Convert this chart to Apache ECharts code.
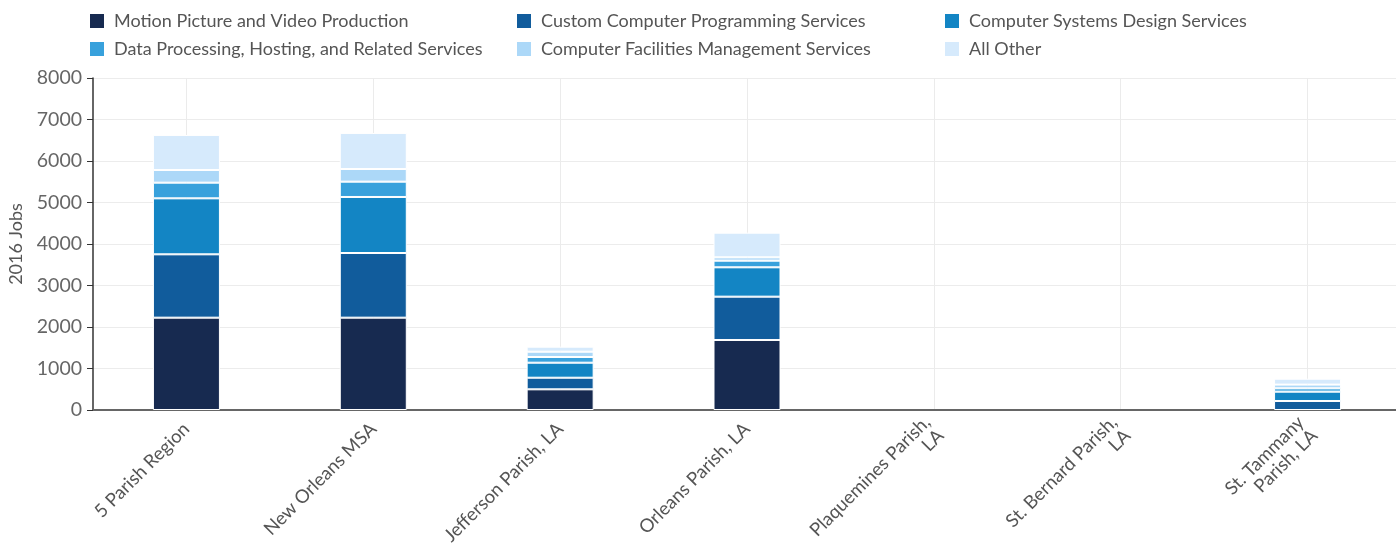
<!DOCTYPE html>
<html><head><meta charset="utf-8">
<script src="https://cdn.jsdelivr.net/npm/echarts@6/dist/echarts.min.js"></script>
<style>html,body{margin:0;padding:0;background:#fff}#c{width:1396px;height:546px}</style>
</head><body><div id="c"></div>
<script>
const categories = ["5 Parish Region", "New Orleans MSA", "Jefferson Parish, LA", "Orleans Parish, LA", "Plaquemines Parish,\nLA", "St. Bernard Parish,\nLA", "St. Tammany\nParish, LA"];
const seriesNames = ["Motion Picture and Video Production", "Custom Computer Programming Services", "Computer Systems Design Services", "Data Processing, Hosting, and Related Services", "Computer Facilities Management Services", "All Other"];
const motionPicture = [2225, 2225, 498, 1687, null, null, null];
const customProgramming = [1526, 1558, 280, 1044, null, null, 217];
const systemsDesign = [1349, 1350, 362, 707, null, null, 225];
const dataProcessing = [378, 369, 137, 160, null, null, 80];
const facilitiesMgmt = [305, 305, 128, 81, null, null, 90];
const allOther = [844, 868, 121, 594, null, null, 142];
const yTicks = [0, 1000, 2000, 3000, 4000, 5000, 6000, 7000, 8000];

const colors = ["#172a50", "#115c9c", "#1385c4", "#38a1dc", "#acd8f8", "#d6eafc"];
const values = [motionPicture, customProgramming, systemsDesign, dataProcessing, facilitiesMgmt, allOther];
const font = "Lato, 'Open Sans', sans-serif";

const chart = echarts.init(document.getElementById('c'));
const legendBase = {
  orient: 'vertical', top: 12, padding: 0, itemWidth: 16, itemHeight: 16, itemGap: 10,
  textStyle: {fontFamily: font, fontSize: 18, lineHeight: 18, color: '#555', padding: [0,0,0,4]},
  icon: 'rect', selectedMode: false
};
chart.setOption({
  color: colors,
  animation: false,
  legend: [
    Object.assign({}, legendBase, {left: 88, data: [seriesNames[0], seriesNames[3]]}),
    Object.assign({}, legendBase, {left: 515, data: [seriesNames[1], seriesNames[4]]}),
    Object.assign({}, legendBase, {left: 943, data: [seriesNames[2], seriesNames[5]]})
  ],
  grid: {left: 93, top: 78, bottom: 136, right: -5, containLabel: false, outerBoundsMode: 'none'},
  xAxis: {
    type: 'category', data: categories,
    axisLine: {lineStyle: {color: '#666', width: 2}},
    axisTick: {show: false},
    splitLine: {show: true, alignWithLabel: true, lineStyle: {color: '#ebebeb', width: 1}},
    axisLabel: {rotate: 45, interval: 0, fontFamily: font, fontSize: 18.5, color: '#555', margin: 16, align: 'right'}
  },
  yAxis: {
    type: 'value', min: 0, max: 8000, interval: 1000,
    name: '2016 Jobs', nameLocation: 'middle', nameGap: 68,
    nameTextStyle: {fontFamily: font, fontSize: 18, color: '#555'},
    axisLine: {show: true, lineStyle: {color: '#333', width: 1.5}},
    axisTick: {show: true, length: 6, lineStyle: {color: '#333'}},
    splitLine: {lineStyle: {color: '#ececec'}},
    axisLabel: {fontFamily: font, fontSize: 19.5, color: '#666', margin: 11,
      formatter: v => yTicks.includes(v) ? String(v) : ''}
  },
  series: values.map((d, i) => ({
    name: seriesNames[i], type: 'bar', stack: 'total', data: d, barWidth: 67,
    itemStyle: {borderColor: '#fff', borderWidth: 1}
  }))
});
</script></body></html>
